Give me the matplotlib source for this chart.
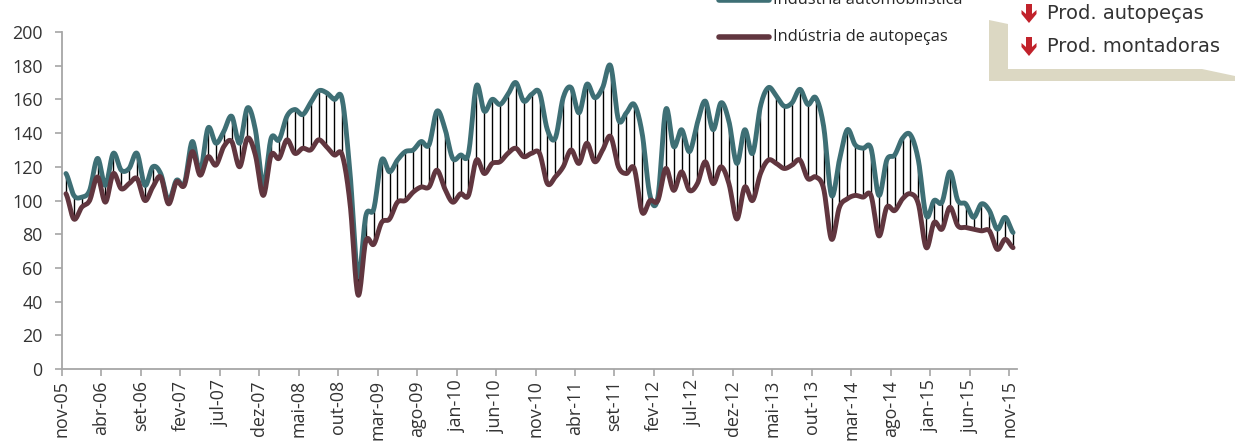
import numpy as np
import matplotlib.pyplot as plt
from matplotlib.patches import Polygon
from matplotlib.lines import Line2D

# monthly index, nov-05 .. nov-15 (121 months)
auto = [116, 103, 102, 106, 125, 109, 128, 118, 119, 128, 109, 120, 116, 100, 112, 110,
        135, 117, 143, 134, 141, 150, 134, 155, 142, 109, 137, 136, 150, 154, 151, 158,
        165, 164, 160, 160, 116, 55, 91, 95, 124, 117, 124, 129, 130, 135, 133, 153,
        143, 125, 127, 128, 168, 153, 160, 157, 163, 170, 159, 163, 164,
        142, 137, 161, 167, 152, 169, 161, 167, 180, 148, 152, 157, 140, 103, 102, 154,
        132, 142, 129, 146, 159, 142, 158, 147, 122, 142, 128, 156, 167, 162, 156, 158,
        166, 157, 161, 144, 103, 124, 142, 133, 131, 131, 103, 124, 127, 137, 139, 124,
        91, 100, 99, 117, 100, 98, 90, 98, 94, 83, 90, 81]
parts = [104, 89, 96, 100, 114, 99, 116, 107, 110, 113, 100, 108, 114, 98, 111, 109,
         129, 115, 126, 121, 132, 135, 120, 137, 127, 103, 127, 125, 136, 128, 131, 130,
         136, 132, 127, 127, 98, 44, 76, 74, 87, 89, 99, 100, 105, 108, 108, 118,
         107, 99, 104, 103, 124, 116, 122, 123, 128, 131, 126, 128, 128,
         110, 114, 120, 130, 122, 134, 123, 130, 138, 120, 116, 119, 93, 100, 100, 119,
         106, 117, 106, 110, 123, 110, 120, 110, 89, 108, 100, 116, 124, 122, 119, 121,
         124, 113, 114, 107, 77, 96, 101, 103, 102, 103, 79, 96, 94, 101, 104, 98,
         72, 87, 83, 96, 85, 84, 83, 82, 82, 71, 77, 72]
tick_labels = ['nov-05', 'abr-06', 'set-06', 'fev-07', 'jul-07', 'dez-07', 'mai-08',
               'out-08', 'mar-09', 'ago-09', 'jan-10', 'jun-10', 'nov-10', 'abr-11',
               'set-11', 'fev-12', 'jul-12', 'dez-12', 'mai-13', 'out-13', 'mar-14',
               'ago-14', 'jan-15', 'jun-15', 'nov-15']
series_names = ['Indústria automobilística', 'Indústria de autopeças']
box_lines = ['Prod. autopeças', 'Prod. montadoras']

TEAL = '#3e6f75'
WINE = '#61363f'


# smoothed line like Excel (bezier through the points, catmull-rom control points)
def smooth(vals, n=16):
    y = np.asarray(vals, float)
    p = np.concatenate([[y[0]], y, [y[-1]]])
    t = np.linspace(0, 1, n, endpoint=False)
    xs, ys = [], []
    for i in range(len(y) - 1):
        b0 = p[i + 1]
        b1 = p[i + 1] + (p[i + 2] - p[i]) / 6
        b2 = p[i + 2] - (p[i + 3] - p[i + 1]) / 6
        b3 = p[i + 2]
        ys.append((1 - t)**3 * b0 + 3 * (1 - t)**2 * t * b1 + 3 * (1 - t) * t**2 * b2 + t**3 * b3)
        xs.append(i + t)
    xs.append([len(y) - 1])
    ys.append([y[-1]])
    return np.concatenate(xs), np.concatenate(ys)


fig = plt.figure(figsize=(12.35, 4.41), dpi=100)
ax = fig.add_axes([62 / 1235, 1 - 369 / 441, 955 / 1235, 337 / 441])

months = np.arange(len(auto))
ax.vlines(months, parts, auto, colors='black', lw=1.0, zorder=2)
sx, sy = smooth(auto)
ax.plot(sx, sy, color=TEAL, lw=3.5, solid_capstyle='round', solid_joinstyle='round', zorder=3)
sx, sy = smooth(parts)
ax.plot(sx, sy, color=WINE, lw=3.5, solid_capstyle='round', solid_joinstyle='round', zorder=4)

ax.set_xlim(-0.5, len(auto) - 0.5)
ax.set_ylim(0, 200)
ax.set_yticks(np.arange(0, 201, 20))
ax.set_xticks(np.arange(0, len(auto), 5) - 0.5)
ax.set_xticklabels(tick_labels, rotation=90)
for s in ['top', 'right']:
    ax.spines[s].set_visible(False)
for s in ['left', 'bottom']:
    ax.spines[s].set_color('#a6a6a6')
    ax.spines[s].set_linewidth(1.3)
ax.tick_params(axis='both', colors='#a6a6a6', length=5, width=1.2, labelcolor='#333333')
ax.tick_params(axis='y', pad=9)
ax.tick_params(axis='x', pad=3)
for lab in ax.get_xticklabels() + ax.get_yticklabels():
    lab.set_fontfamily('Open Sans')
    lab.set_fontsize(12.9)

# overlay in pixel coordinates for legend and the callout box
ov = fig.add_axes([0, 0, 1, 1])
ov.set_xlim(0, 1235)
ov.set_ylim(441, 0)
ov.axis('off')

for yy, col, name in [(0, TEAL, series_names[0]), (37, WINE, series_names[1])]:
    ov.add_line(Line2D([719, 769], [yy, yy], color=col, lw=4, solid_capstyle='round'))
    ov.text(773, yy, name, fontfamily='Open Sans', fontsize=11.8, color='#262626', va='center')

ov.add_patch(Polygon([(989, 20), (1008, 24), (1008, 69), (1202, 69), (1235, 76),
                      (1235, 81), (989, 81)], closed=True, color='#dcd8c3', lw=0))
for y0, txt in [(4, box_lines[0]), (37, box_lines[1])]:
    cx = 1029
    ov.add_patch(Polygon([(cx - 3, y0), (cx + 3, y0), (cx + 3, y0 + 10), (cx + 7.5, y0 + 6),
                          (cx + 7.5, y0 + 10), (cx, y0 + 19), (cx - 7.5, y0 + 10),
                          (cx - 7.5, y0 + 6), (cx - 3, y0 + 10)],
                         closed=True, color='#c1222b', lw=0))
    ov.text(1047, y0 + 15, txt, fontfamily='DejaVu Sans', fontsize=14, color='#333333',
            va='baseline')

fig.savefig('out.png', dpi=100)
